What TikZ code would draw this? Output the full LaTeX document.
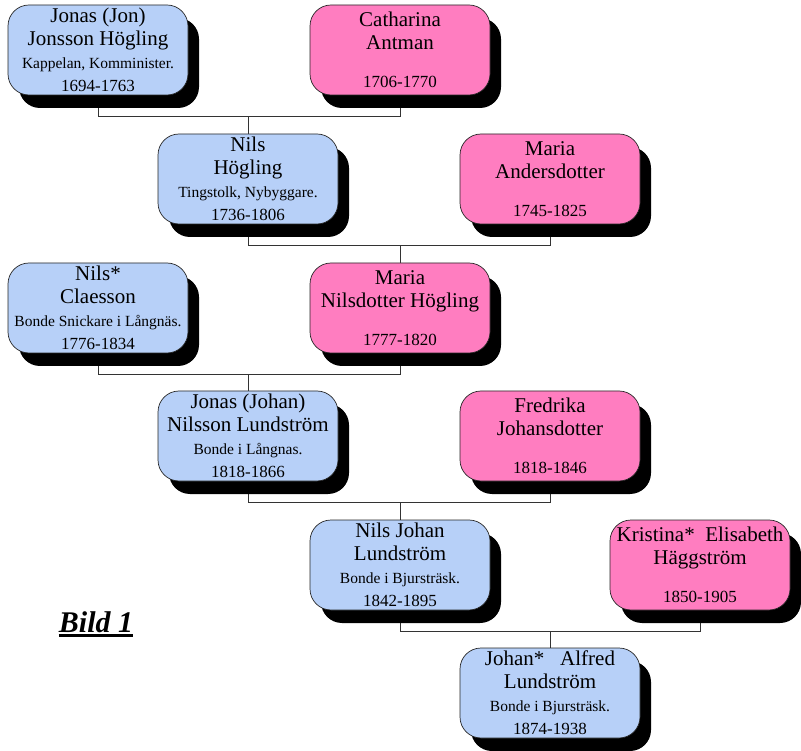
\documentclass[tikz,border=0pt]{standalone}
\usepackage{fontspec}
\setmainfont{Liberation Serif}
\usetikzlibrary{shadows,backgrounds}

\definecolor{manblue}{RGB}{183,208,248}
\definecolor{womanpink}{RGB}{255,125,192}
\newcommand{\occ}{\fontsize{15.5}{17}\selectfont}
\newcommand{\yrs}{\fontsize{17}{19}\selectfont}
\newcommand{\thickul}[1]{\setbox0\hbox{#1}\rlap{\copy0}\rule[-4.5pt]{\wd0}{2.2pt}}

\begin{document}
\begin{tikzpicture}[x=1pt,y=-1pt,
  person/.style={draw=black!85, line width=0.7pt, rounded corners=21pt,
    minimum width=180pt, minimum height=90pt, align=center, inner sep=0pt,
    font=\fontsize{21}{23}\selectfont,
    drop shadow={shadow xshift=11pt, shadow yshift=-13pt, fill=black, opacity=1}},
  man/.style={person, fill=manblue},
  woman/.style={person, fill=womanpink},
  link/.style={draw=black!80, line width=0.8pt}]

\useasboundingbox (0,0) rectangle (801,751);

%% persons
\node[man]   (jon)       at (98,50)   {Jonas (Jon)\\Jonsson Högling\\{\occ Kappelan, Komminister.}\\{\yrs 1694-1763}};
\node[woman] (catharina) at (400,50)  {Catharina\\Antman\\[15pt]{\yrs 1706-1770}};
\node[man]   (nils)      at (248,179) {Nils\\Högling\\{\occ Tingstolk, Nybyggare.}\\{\yrs 1736-1806}};
\node[woman] (mariaA)    at (550,179) {Maria\\Andersdotter\\[15pt]{\yrs 1745-1825}};
\node[man]   (claesson)  at (98,308)  {Nils*\\Claesson\\{\occ Bonde Snickare i Långnäs.}\\{\yrs 1776-1834}};
\node[woman] (mariaN)    at (400,308) {Maria\\Nilsdotter Högling\\[15pt]{\yrs 1777-1820}};
\node[man]   (jonas)     at (248,436) {Jonas (Johan)\\Nilsson Lundström\\{\occ Bonde i Långnas.}\\{\yrs 1818-1866}};
\node[woman] (fredrika)  at (550,436) {Fredrika\\Johansdotter\\[15pt]{\yrs 1818-1846}};
\node[man]   (nilsjohan) at (400,565) {Nils Johan\\Lundström\\{\occ Bonde i Bjursträsk.}\\{\yrs 1842-1895}};
\node[woman] (kristina)  at (700,565) {Kristina*~~Elisabeth\\Häggström\\[15pt]{\yrs 1850-1905}};
\node[man]   (johan)     at (550,693) {Johan*~~~Alfred\\Lundström\\{\occ Bonde i Bjursträsk.}\\{\yrs 1874-1938}};

%% label
\node (bild) at (96,624) {\fontsize{30}{32}\selectfont\bfseries\itshape\thickul{Bild 1}};

%% couples and children
\begin{scope}[on background layer]
\draw[link] (jon.south) -- ++(0,21) coordinate (j1) -| (catharina.south);       %% jon + catharina
\draw[link] (nils.north) -- (nils.north |- j1);                                  %% -> nils
\draw[link] (nils.south) -- ++(0,21) coordinate (j2) -| (mariaA.south);          %% nils + maria
\draw[link] (mariaN.north) -- (mariaN.north |- j2);                              %% -> maria
\draw[link] (claesson.south) -- ++(0,21) coordinate (j3) -| (mariaN.south);      %% claesson + maria
\draw[link] (jonas.north) -- (jonas.north |- j3);                                %% -> jonas
\draw[link] (jonas.south) -- ++(0,21) coordinate (j4) -| (fredrika.south);       %% jonas + fredrika
\draw[link] (nilsjohan.north) -- (nilsjohan.north |- j4);                        %% -> nils johan
\draw[link] (nilsjohan.south) -- ++(0,21) coordinate (j5) -| (kristina.south);   %% nils johan + kristina
\draw[link] (johan.north) -- (johan.north |- j5);                                %% -> johan
\end{scope}

\end{tikzpicture}
\end{document}
